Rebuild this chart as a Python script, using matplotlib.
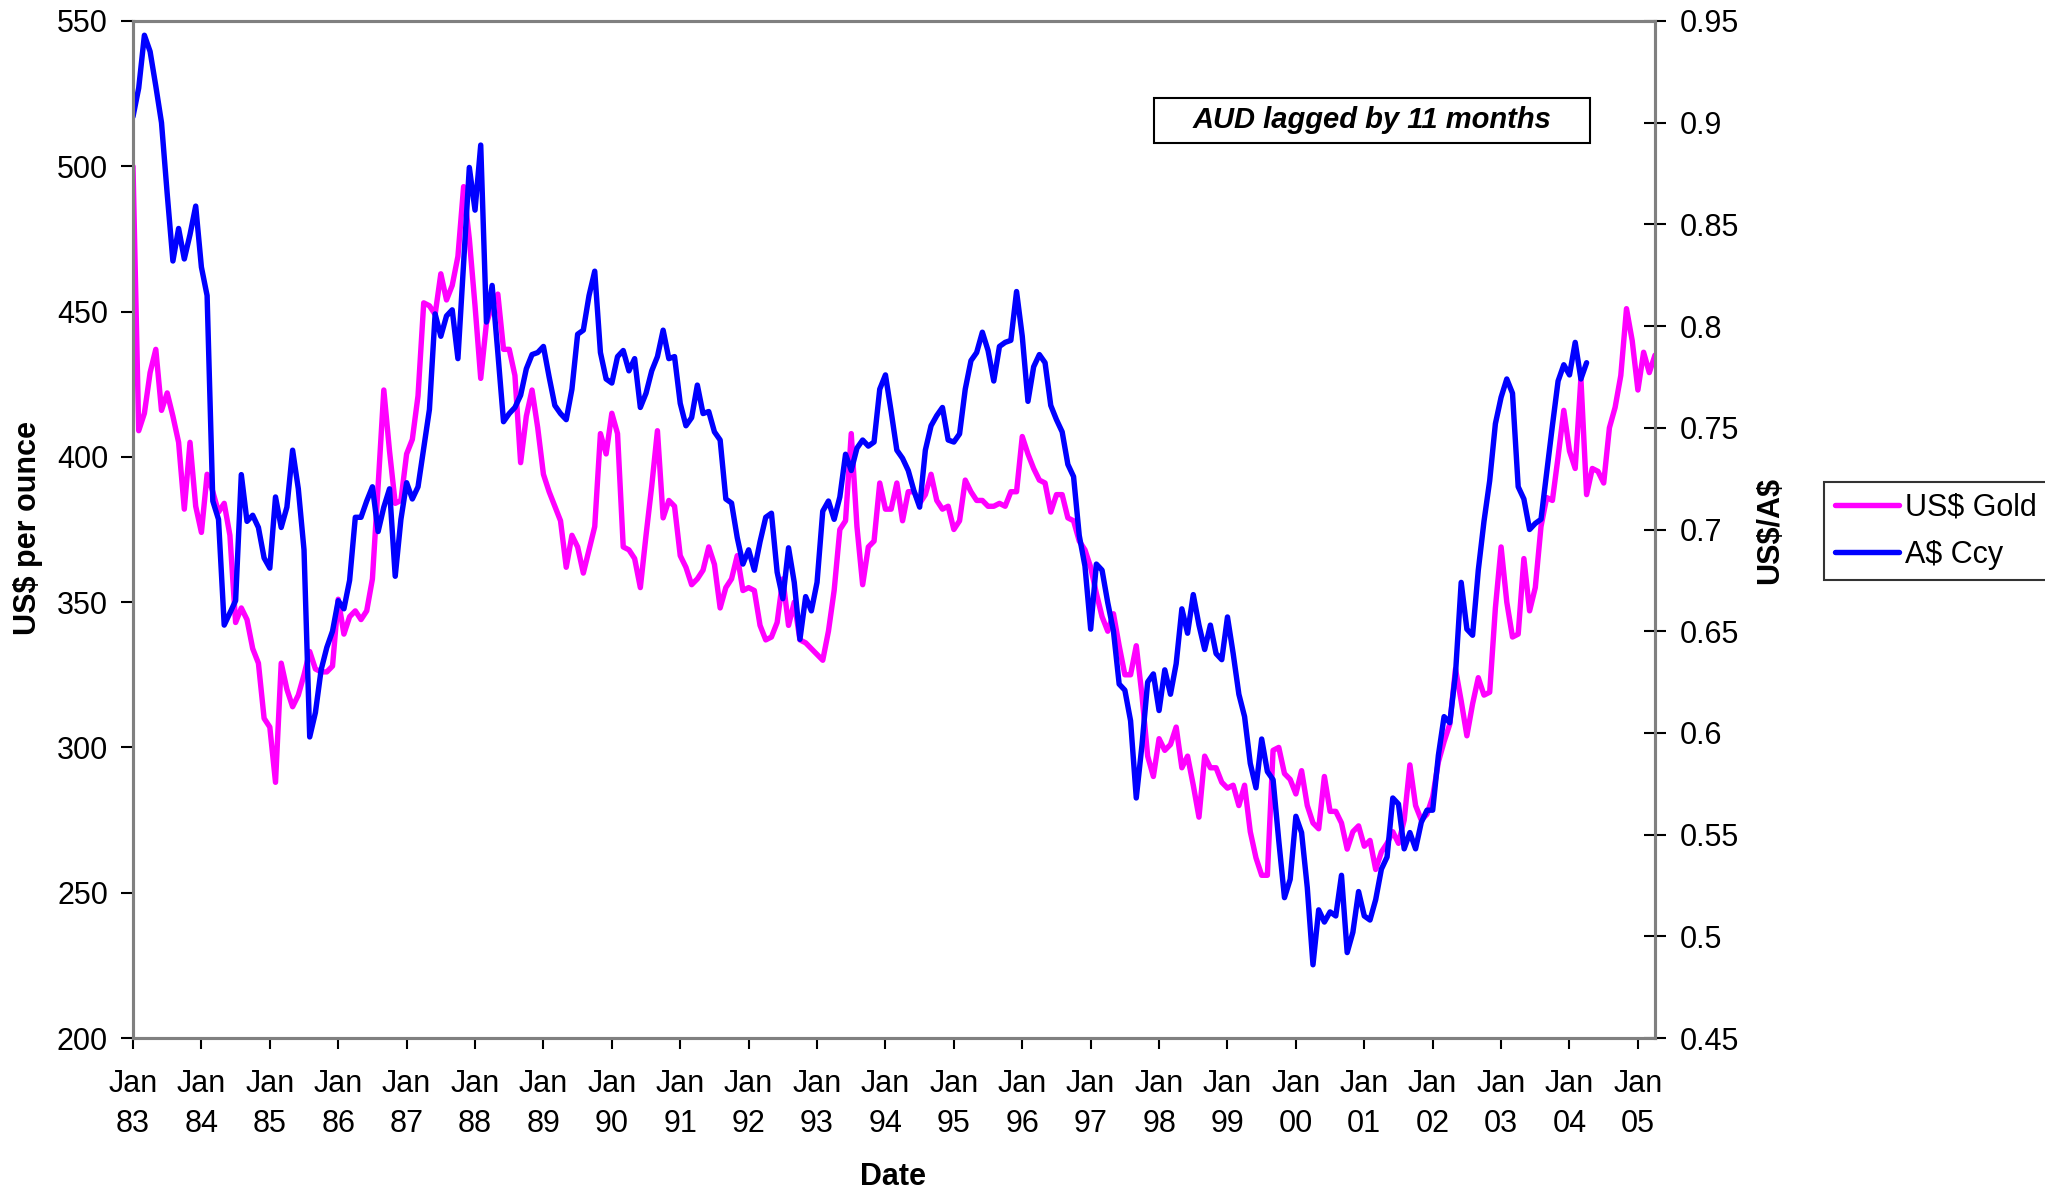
import numpy as np
import matplotlib
matplotlib.use("Agg")
import matplotlib.pyplot as plt
from matplotlib.patches import Rectangle

plt.rcParams['font.family'] = ['Liberation Sans', 'DejaVu Sans']
plt.rcParams['text.parse_math'] = False

# monthly US$ gold price, Jan 83 onwards (one row per year)
gold = [
    500, 409, 415, 429, 437, 416, 422, 414, 405, 382, 405, 383,
    374, 394, 388, 381, 384, 373, 343, 348, 344, 334, 329, 310,
    307, 288, 329, 320, 314, 318, 325, 333, 327, 326, 326, 328,
    351, 339, 345, 347, 344, 347, 358, 390, 423, 402, 384, 385,
    401, 406, 421, 453, 452, 449, 463, 454, 459, 469, 493, 475,
    452, 427, 446, 452, 456, 437, 437, 428, 398, 414, 423, 410,
    394, 388, 383, 378, 362, 373, 369, 360, 368, 376, 408, 401,
    415, 408, 369, 368, 365, 355, 373, 390, 409, 379, 385, 383,
    366, 362, 356, 358, 361, 369, 363, 348, 355, 358, 366, 354,
    355, 354, 342, 337, 338, 343, 358, 342, 350, 337, 336, 334,
    332, 330, 340, 354, 375, 378, 408, 376, 356, 369, 371, 391,
    382, 382, 391, 378, 388, 388, 384, 387, 394, 385, 382, 383,
    375, 378, 392, 388, 385, 385, 383, 383, 384, 383, 388, 388,
    407, 401, 396, 392, 391, 381, 387, 387, 379, 378, 371, 368,
    362, 353, 345, 340, 346, 335, 325, 325, 335, 318, 297, 290,
    303, 299, 301, 307, 293, 297, 287, 276, 297, 293, 293, 288,
    286, 287, 280, 287, 271, 262, 256, 256, 299, 300, 291, 289,
    284, 292, 280, 274, 272, 290, 278, 278, 274, 265, 271, 273,
    266, 268, 258, 264, 267, 271, 267, 275, 294, 280, 275, 277,
    283, 295, 302, 308, 327, 316, 304, 315, 324, 318, 319, 348,
    369, 350, 338, 339, 365, 347, 355, 376, 386, 385, 400, 416,
    402, 396, 427, 387, 396, 395, 391, 410, 417, 428, 451, 440,
    423, 436, 429, 435,
]

# US$/A$, lagged by 11 months
aud = [
    0.903, 0.917, 0.943, 0.935, 0.918, 0.900, 0.865, 0.832, 0.848, 0.833, 0.845, 0.859,
    0.829, 0.815, 0.714, 0.705, 0.653, 0.659, 0.665, 0.727, 0.704, 0.707, 0.701, 0.686,
    0.681, 0.716, 0.701, 0.711, 0.739, 0.720, 0.690, 0.598, 0.610, 0.631, 0.642, 0.650,
    0.665, 0.661, 0.675, 0.706, 0.706, 0.714, 0.721, 0.699, 0.711, 0.720, 0.677, 0.705,
    0.723, 0.715, 0.721, 0.740, 0.759, 0.806, 0.795, 0.805, 0.808, 0.784, 0.831, 0.878,
    0.857, 0.889, 0.802, 0.820, 0.787, 0.753, 0.757, 0.760, 0.766, 0.779, 0.786, 0.787,
    0.790, 0.775, 0.761, 0.757, 0.754, 0.769, 0.796, 0.798, 0.815, 0.827, 0.787, 0.774,
    0.772, 0.785, 0.788, 0.778, 0.784, 0.760, 0.767, 0.778, 0.785, 0.798, 0.784, 0.785,
    0.762, 0.751, 0.755, 0.771, 0.757, 0.758, 0.748, 0.744, 0.715, 0.713, 0.696, 0.683,
    0.690, 0.680, 0.694, 0.706, 0.708, 0.679, 0.666, 0.691, 0.674, 0.646, 0.667, 0.660,
    0.674, 0.709, 0.714, 0.705, 0.716, 0.737, 0.729, 0.740, 0.744, 0.741, 0.743, 0.769,
    0.776, 0.758, 0.739, 0.735, 0.729, 0.719, 0.711, 0.739, 0.751, 0.756, 0.760, 0.744,
    0.743, 0.747, 0.769, 0.783, 0.787, 0.797, 0.788, 0.773, 0.790, 0.792, 0.793, 0.817,
    0.795, 0.763, 0.780, 0.786, 0.782, 0.761, 0.754, 0.748, 0.732, 0.726, 0.697, 0.682,
    0.651, 0.683, 0.680, 0.664, 0.650, 0.624, 0.621, 0.606, 0.568, 0.594, 0.625, 0.629,
    0.611, 0.631, 0.619, 0.634, 0.661, 0.649, 0.668, 0.653, 0.641, 0.653, 0.639, 0.636,
    0.657, 0.639, 0.619, 0.608, 0.585, 0.573, 0.597, 0.581, 0.577, 0.547, 0.519, 0.528,
    0.559, 0.551, 0.524, 0.486, 0.513, 0.507, 0.512, 0.510, 0.530, 0.492, 0.502, 0.522,
    0.510, 0.508, 0.518, 0.533, 0.539, 0.568, 0.565, 0.543, 0.551, 0.543, 0.556, 0.562,
    0.562, 0.589, 0.608, 0.605, 0.629, 0.674, 0.651, 0.648, 0.680, 0.704, 0.724, 0.752,
    0.765, 0.774, 0.767, 0.721, 0.715, 0.700, 0.703, 0.705, 0.728, 0.751, 0.773, 0.781,
    0.776, 0.792, 0.774, 0.782,
]

years = ['83', '84', '85', '86', '87', '88', '89', '90', '91', '92', '93', '94',
         '95', '96', '97', '98', '99', '00', '01', '02', '03', '04', '05']
gold_ticks = [200, 250, 300, 350, 400, 450, 500, 550]
aud_ticks = [0.45, 0.5, 0.55, 0.6, 0.65, 0.7, 0.75, 0.8, 0.85, 0.9, 0.95]

W, H = 2045, 1189
fig = plt.figure(figsize=(W / 100, H / 100), dpi=100)
ax = fig.add_axes([133 / W, 1 - 1038 / H, (1655 - 133) / W, (1038 - 21) / H])
ax2 = ax.twinx()

l1, = ax.plot(np.arange(len(gold)), gold, color='#ff00ff', lw=3.9,
              solid_joinstyle='round', solid_capstyle='round', label='US$ Gold')
l2, = ax2.plot(np.arange(len(aud)), aud, color='#0000ff', lw=3.9,
               solid_joinstyle='round', solid_capstyle='round', label='A$ Ccy')

ax.set_xlim(0, len(gold) - 1)
ax.set_ylim(200, 550)
ax2.set_ylim(0.45, 0.95)

ax.set_xticks(np.arange(len(years)) * 12)
ax.set_xticklabels(['Jan\n' + y for y in years])
ax.set_yticks(gold_ticks)
ax.set_yticklabels([str(v) for v in gold_ticks])
ax2.set_yticks(aud_ticks)
ax2.set_yticklabels([f'{v:g}' for v in aud_ticks])

ax.tick_params(axis='x', direction='out', length=8, width=1.5, pad=14, labelsize=22)
ax.tick_params(axis='y', direction='out', length=9, width=1.5, pad=9, labelsize=22)
ax2.tick_params(axis='y', direction='inout', length=16, width=1.5, pad=10, labelsize=22)
for t in ax.get_xticklabels():
    t.set_linespacing(1.45)

for a in (ax, ax2):
    for s in a.spines.values():
        s.set_color('#808080')
        s.set_linewidth(2.2)

fig.text(28 / W, 1 - 528 / H, 'US$ per ounce', rotation=90, fontsize=22,
         fontweight='bold', ha='center', va='center')
fig.text(1770 / W, 1 - 531 / H, 'US$/A$', rotation=90, fontsize=22,
         fontweight='bold', ha='center', va='center')
fig.text(893 / W, 1 - 1177 / H, 'Date', fontsize=22, fontweight='bold',
         ha='center', va='center')

# note box
fig.patches.append(Rectangle((1154 / W, 1 - 143 / H), 436 / W, 45 / H,
                             transform=fig.transFigure, fc='white', ec='black', lw=1.5))
fig.text(1372 / W, 1 - 120 / H, 'AUD lagged by 11 months', fontsize=21,
         fontweight='bold', fontstyle='italic', ha='center', va='center')

leg = fig.legend(handles=[l1, l2], loc='upper left',
                 bbox_to_anchor=(1824 / W, 1 - 482 / H), fontsize=22,
                 frameon=True, fancybox=False, shadow=False,
                 handlelength=2.1, handletextpad=0.2, borderpad=0.35,
                 labelspacing=0.55, borderaxespad=0)
leg.get_frame().set_edgecolor('black')
leg.get_frame().set_linewidth(1.5)

fig.savefig('out.png', dpi=100)
